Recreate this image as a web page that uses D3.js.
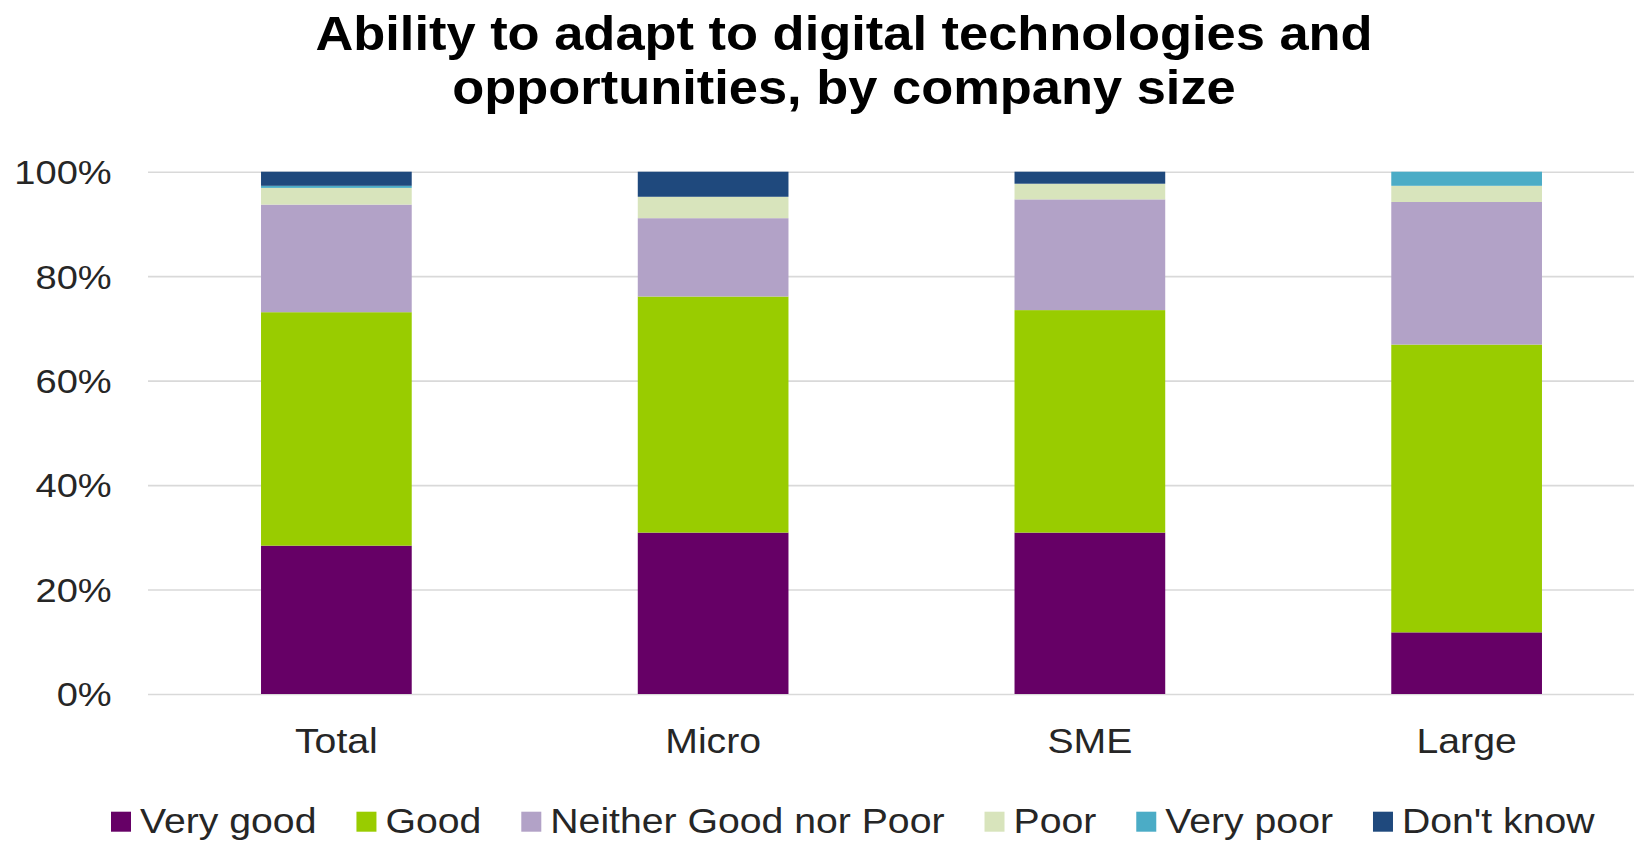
<!DOCTYPE html>
<html>
<head>
<meta charset="utf-8">
<script src="https://cdn.jsdelivr.net/npm/d3@7"></script>
<style>
  body { margin: 0; background: #fff; }
  text { font-family: "Liberation Sans", Arial, sans-serif; }
  .grid line { stroke: #d9d9d9; stroke-width: 1.6; }
  .grid path { display: none; }
  .eje path, .eje line { display: none; }
</style>
</head>
<body>
<div id="chart"></div>
<script>
/////////// DATOS /////////
var categories = ["Total", "Micro", "SME", "Large"];
var seriesNames = ["Very good", "Good", "Neither Good nor Poor", "Poor", "Very poor", "Don't know"];
var veryGood = [28.4, 30.9, 30.9, 11.8];
var good     = [44.7, 45.2, 42.6, 55.1];
var neither  = [20.6, 15.0, 21.2, 27.3];
var poor     = [3.2, 4.1, 3.0, 3.1];
var veryPoor = [0.4, 0, 0, 2.7];
var dontKnow = [2.7, 4.8, 2.3, 0];
var yTicks = [0, 20, 40, 60, 80, 100];
var colores = ["#660066", "#99cc00", "#b2a2c7", "#d8e4bc", "#4bacc6", "#1f497d"];

/////////// MEDIDAS /////////
var W = 1634, H = 841;
var plotLeft = 148, plotRight = 1655, plotTop = 171.7, plotBottom = 694;
var stretch = 1.12;   // el texto original está algo ensanchado

var svg = d3.select("#chart").append("svg")
  .attr("width", W)
  .attr("height", H);

// tabla para d3.stack
var keys = ["vg", "g", "n", "p", "vp", "dk"];
var tabla = categories.map(function(c, i) {
  return {cat: c, vg: veryGood[i], g: good[i], n: neither[i], p: poor[i], vp: veryPoor[i], dk: dontKnow[i]};
});
var stacked = d3.stack().keys(keys)(tabla);

/////////// ESCALAS /////////
var x = d3.scaleBand()
  .domain(categories)
  .range([plotLeft, plotRight])
  .paddingInner(0.6)
  .paddingOuter(0.3);

var y = d3.scaleLinear()
  .domain([0, 100])
  .range([plotBottom, plotTop]);

var color = d3.scaleOrdinal().domain(keys).range(colores);

/////////// GRID Y /////////
svg.append("g")
  .attr("class", "grid")
  .attr("transform", "translate(" + plotLeft + ",0)")
  .call(d3.axisLeft(y).tickValues(yTicks).tickSize(-(W - plotLeft)).tickFormat(""));

/////////// BARRAS /////////
svg.append("g")
  .selectAll("g")
  .data(stacked)
  .enter().append("g")
    .attr("fill", function(d) { return color(d.key); })
  .selectAll("rect")
  .data(function(d) { return d; })
  .enter().append("rect")
    .attr("x", function(d) { return x(d.data.cat); })
    .attr("width", x.bandwidth())
    .attr("y", function(d) { return y(d[1]); })
    .attr("height", function(d) { return y(d[0]) - y(d[1]); });

/////////// EJE Y /////////
var ejeY = svg.append("g")
  .attr("class", "eje")
  .attr("transform", "translate(" + plotLeft + ",0)")
  .call(d3.axisLeft(y).tickValues(yTicks).tickSize(0).tickFormat(function(d) { return d + "%"; }));
ejeY.selectAll("text")
  .attr("x", -36.3 / stretch)
  .attr("dy", "0.35em")
  .attr("transform", "scale(" + stretch + ",1)")
  .attr("font-size", "34px")
  .attr("font-family", "Liberation Sans, Arial, sans-serif")
  .attr("fill", "#262626");

/////////// EJE X /////////
var ejeX = svg.append("g")
  .attr("class", "eje")
  .attr("transform", "translate(0," + plotBottom + ")")
  .call(d3.axisBottom(x).tickSize(0));
ejeX.selectAll("text")
  .attr("y", 58.7)
  .attr("dy", 0)
  .attr("x", 0)
  .attr("transform", "scale(" + stretch + ",1)")
  .attr("font-size", "35px")
  .attr("font-family", "Liberation Sans, Arial, sans-serif")
  .attr("fill", "#262626");

/////////// TÍTULO /////////
var titulo = ["Ability to adapt to digital technologies and", "opportunities, by company size"];
svg.selectAll(".titulo")
  .data(titulo)
  .enter().append("text")
    .attr("class", "titulo")
    .attr("text-anchor", "middle")
    .attr("transform", function(d, i) { return "translate(844," + (49.5 + i * 54.5) + ") scale(1.07,1)"; })
    .attr("font-size", "49px")
    .attr("font-weight", "bold")
    .attr("fill", "#000")
    .text(function(d) { return d; });

/////////// LEYENDA /////////
var leyenda = svg.append("g").attr("class", "leyenda");
var lx = 111;
seriesNames.forEach(function(nombre, i) {
  leyenda.append("rect")
    .attr("x", lx)
    .attr("y", 811.7)
    .attr("width", 20)
    .attr("height", 20)
    .attr("fill", colores[i]);
  var t = leyenda.append("text")
    .attr("transform", "translate(" + (lx + 29) + ",832.5) scale(" + stretch + ",1)")
    .attr("font-size", "35px")
    .attr("fill", "#262626")
    .text(nombre);
  lx = lx + 29 + t.node().getComputedTextLength() * stretch + 40;
});
</script>
</body>
</html>
